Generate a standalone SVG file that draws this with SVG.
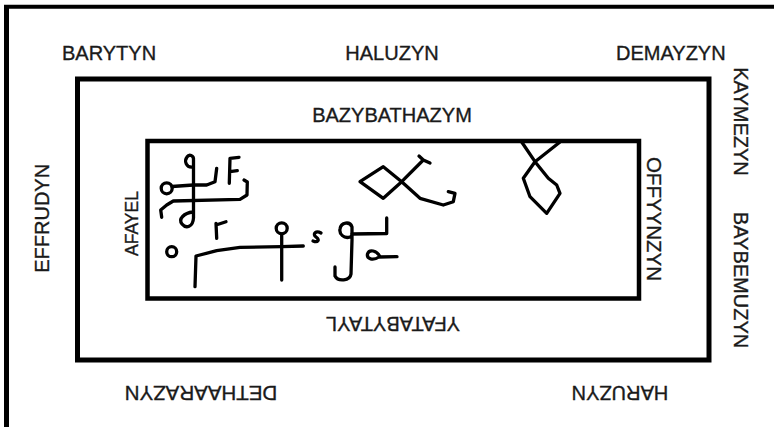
<svg xmlns="http://www.w3.org/2000/svg" width="774" height="427" viewBox="0 0 774 427">
<style>
.lbl{font-family:"Liberation Sans",Arial,sans-serif;font-size:20px;fill:#1a1a1a;stroke:#1a1a1a;stroke-width:0.35;text-anchor:middle}
.box{fill:none;stroke:#000}
.ink{fill:none;stroke:#000;stroke-width:3.3;stroke-linecap:round;stroke-linejoin:round}
</style>
<rect width="774" height="427" fill="#fff"/>
<g id="frame">
<line x1="4" y1="6.7" x2="774" y2="6.7" stroke="#000" stroke-width="4"/>
<line x1="6.5" y1="5" x2="6.5" y2="427" stroke="#000" stroke-width="5"/>
</g>
<g id="outer-box"><rect class="box" x="77.5" y="79" width="631.5" height="281" stroke-width="5"/></g>
<g id="inner-box"><rect class="box" x="147.5" y="141" width="491.5" height="157.5" stroke-width="4.5"/></g>
<g id="labels">
<text class="lbl" x="62" y="60" style="text-anchor:start">BARYTYN</text>
<text class="lbl" x="392" y="60">HALUZYN</text>
<text class="lbl" x="616" y="60" style="text-anchor:start">DEMAYZYN</text>
<text class="lbl" transform="translate(733.5,121.5) rotate(90)">KAYMEZYN</text>
<text class="lbl" transform="translate(733.5,280) rotate(90)">BAYBEMUZYN</text>
<text class="lbl" style="font-size:20.5px" transform="translate(647,219) rotate(90)">OFFYYNZYN</text>
<text class="lbl" transform="translate(49,218.3) rotate(-90)">EFFRUDYN</text>
<text class="lbl" style="font-size:17.5px" transform="translate(137.5,223.5) rotate(-90)">AFAYEL</text>
<text class="lbl" x="392" y="122">BAZYBATHAZYM</text>
<text class="lbl" transform="translate(393,316.5) rotate(180)">YFATABYTAYL</text>
<text class="lbl" style="font-size:20.5px" transform="translate(201,386) rotate(180)">DETHAARAZYN</text>
<text class="lbl" transform="translate(620,386) rotate(180)">HARUZYN</text>
</g>
<g id="scribbles">
<circle class="ink" cx="166.7" cy="188.3" r="5.5"/>
<path class="ink" d="M172,186.5 L193.3,185 L206.7,185 L215,181.7 L216.7,168.3"/>
<path class="ink" d="M193,167 C186,168 184,161 187,157 C189,154 194,155 193.5,160 L193.5,200 L193.5,218 C193,227 186,229 182,224 C178,219 184,213 193,212"/>
<path class="ink" d="M161.7,217.3 L160.7,210 L166.7,205 L173.3,201 L240,199.3 L247,195 L247.3,182 L244,180"/>
<path class="ink" d="M239,157.3 L230,158.3 L229.3,183.3 M230,171.7 L237.3,170.7"/>
<path class="ink" d="M216.7,238.3 L216,223.3 M216,225 L226,221.7"/>
<circle class="ink" cx="171.7" cy="251.7" r="5"/>
<path class="ink" d="M195,286.7 L196,256 L216.7,250.7 L240,247.3 L281.7,246.7 L303.3,246"/>
<circle class="ink" cx="281.7" cy="228.3" r="5.5"/>
<path class="ink" d="M281.7,234 L281.7,280"/>
<path class="ink" d="M321,233 C316,230 312,234 316,237 C320,240 318,243 313,241"/>
<path class="ink" d="M350,237 C344,239 339,234 340,229 C341,222 350,221 352,227 L352,240 L351,274 C350,281 338,282 335,276 L335,267"/>
<path class="ink" d="M352,234 L386.7,233.5 L386.7,218"/>
<path class="ink" d="M380,257 C377,250 369,249 367.5,254 C366.5,259 373,261 379,257 L397,256.7"/>
<path class="ink" d="M360,181.7 L383.3,166.7 L401.7,181.7 L383.3,198.3 Z"/>
<path class="ink" d="M401.7,181.7 L423.3,160 M419,156 L423.3,160 L430,163"/>
<path class="ink" d="M401.7,181.7 L420,198.3 L443.3,205 L453.3,201.7 L455,193.3 L448.3,191.7"/>
<path class="ink" d="M521.7,142 L535,161.7 L560,142 M535,161.7 L523.3,178.3 L530,196.7 L546.7,213.3 L560,193.3 L556.7,185 L548.3,178.3 Z"/>
</g>
</svg>
